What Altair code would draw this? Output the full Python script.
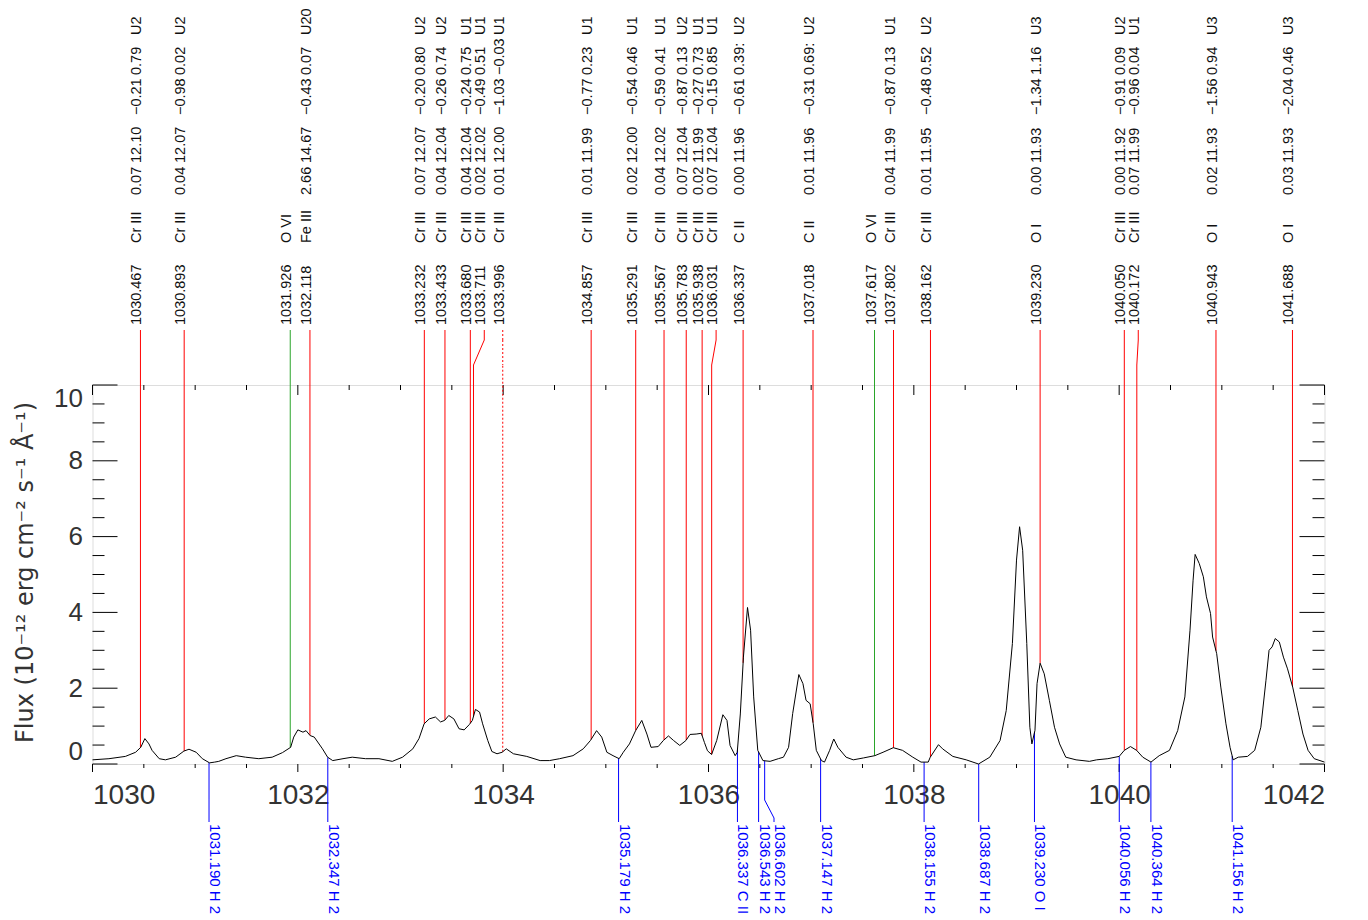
import altair as alt
import numpy as np
import pandas as pd

# ---------------- spectrum (wavelength in Angstrom, flux in 1e-12 erg/cm2/s/A) -------------
wl = [
    1030.00, 1030.16, 1030.32, 1030.42, 1030.47, 1030.51, 1030.55, 1030.58, 1030.65, 1030.71,
    1030.81, 1030.89, 1030.94, 1031.01, 1031.07, 1031.14, 1031.19, 1031.23, 1031.30, 1031.40,
    1031.49, 1031.62, 1031.75, 1031.85, 1031.93, 1031.96, 1032.00, 1032.05, 1032.08, 1032.12,
    1032.16, 1032.24, 1032.29, 1032.34, 1032.44, 1032.53, 1032.66, 1032.79, 1032.92, 1033.02,
    1033.12, 1033.18, 1033.23, 1033.28, 1033.34, 1033.39, 1033.43, 1033.47, 1033.52, 1033.57,
    1033.62, 1033.67, 1033.70, 1033.73, 1033.77, 1033.80, 1033.85, 1033.89, 1033.94, 1033.99,
    1034.03, 1034.10, 1034.23, 1034.36, 1034.45, 1034.55, 1034.68, 1034.78, 1034.85, 1034.91,
    1034.96, 1035.01, 1035.07, 1035.13, 1035.17, 1035.23, 1035.29, 1035.35, 1035.40, 1035.44,
    1035.51, 1035.56, 1035.61, 1035.66, 1035.72, 1035.78, 1035.82, 1035.88, 1035.93, 1035.96,
    1035.99, 1036.03, 1036.08, 1036.14, 1036.18, 1036.21, 1036.26, 1036.28, 1036.31, 1036.34,
    1036.38, 1036.41, 1036.44, 1036.48, 1036.53, 1036.60, 1036.68, 1036.73, 1036.78, 1036.82,
    1036.88, 1036.92, 1036.95, 1036.99, 1037.02, 1037.05, 1037.10, 1037.13, 1037.18, 1037.22,
    1037.26, 1037.34, 1037.41, 1037.51, 1037.62, 1037.70, 1037.80, 1037.89, 1037.99, 1038.07,
    1038.14, 1038.16, 1038.24, 1038.28, 1038.38, 1038.51, 1038.63, 1038.74, 1038.84, 1038.90,
    1038.96, 1039.00, 1039.03, 1039.06, 1039.10, 1039.13, 1039.15, 1039.18, 1039.20, 1039.23,
    1039.27, 1039.32, 1039.37, 1039.42, 1039.48, 1039.58, 1039.71, 1039.78, 1039.89, 1040.00,
    1040.05, 1040.11, 1040.17, 1040.23, 1040.31, 1040.39, 1040.49, 1040.57, 1040.64, 1040.69,
    1040.72, 1040.74, 1040.78, 1040.82, 1040.85, 1040.89, 1040.91, 1040.95, 1040.99, 1041.04,
    1041.08, 1041.11, 1041.16, 1041.25, 1041.32, 1041.38, 1041.43, 1041.46, 1041.49, 1041.52,
    1041.56, 1041.60, 1041.64, 1041.69, 1041.74, 1041.79, 1041.84, 1041.90, 1042.00,
]
flux = [
    0.11, 0.14, 0.20, 0.31, 0.44, 0.67, 0.53, 0.36, 0.14, 0.11,
    0.18, 0.34, 0.39, 0.31, 0.14, 0.03, 0.05, 0.07, 0.14, 0.22,
    0.18, 0.14, 0.18, 0.30, 0.44, 0.71, 0.90, 0.84, 0.88, 0.75,
    0.71, 0.40, 0.18, 0.09, 0.14, 0.18, 0.14, 0.14, 0.07, 0.18,
    0.40, 0.67, 1.06, 1.19, 1.24, 1.11, 1.15, 1.28, 1.19, 0.93,
    0.90, 1.04, 1.15, 1.44, 1.37, 1.06, 0.62, 0.33, 0.27, 0.31,
    0.40, 0.27, 0.20, 0.09, 0.09, 0.14, 0.22, 0.40, 0.62, 0.88,
    0.71, 0.31, 0.22, 0.14, 0.31, 0.53, 0.88, 1.15, 0.79, 0.44,
    0.46, 0.62, 0.74, 0.62, 0.49, 0.62, 0.78, 0.79, 0.81, 0.57,
    0.35, 0.25, 0.62, 1.30, 1.15, 0.49, 0.22, 0.31, 1.32, 2.82,
    4.13, 3.53, 1.77, 0.36, 0.09, 0.07, 0.14, 0.18, 0.44, 1.33,
    2.36, 2.12, 1.68, 1.59, 1.06, 0.36, 0.09, 0.05, 0.36, 0.66,
    0.44, 0.18, 0.11, 0.16, 0.22, 0.31, 0.43, 0.36, 0.18, 0.05,
    0.05, 0.18, 0.51, 0.40, 0.20, 0.11, 0.00, 0.18, 0.62, 1.41,
    3.18, 5.38, 6.26, 5.64, 3.18, 0.97, 0.53, 0.89, 2.12, 2.66,
    2.38, 1.68, 0.97, 0.53, 0.18, 0.11, 0.07, 0.11, 0.14, 0.20,
    0.36, 0.46, 0.36, 0.18, 0.05, 0.22, 0.36, 0.88, 1.77, 3.53,
    4.85, 5.53, 5.29, 4.94, 4.41, 3.97, 3.35, 2.91, 2.03, 1.06,
    0.44, 0.11, 0.18, 0.20, 0.36, 0.97, 2.21, 3.00, 3.09, 3.31,
    3.22, 2.82, 2.51, 2.03, 1.41, 0.79, 0.36, 0.14, 0.05,
]

# ---------------- line identifications above the spectrum ----------------
top_wl = [1030.467, 1030.893, 1031.926, 1032.118, 1033.232, 1033.433, 1033.680, 1033.711,
          1033.996, 1034.857, 1035.291, 1035.567, 1035.783, 1035.938, 1036.031, 1036.337,
          1037.018, 1037.617, 1037.802, 1038.162, 1039.230, 1040.050, 1040.172, 1040.943,
          1041.688]
top_wl_txt = ["1030.467", "1030.893", "1031.926", "1032.118", "1033.232", "1033.433", "1033.680",
              "1033.711", "1033.996", "1034.857", "1035.291", "1035.567", "1035.783", "1035.938",
              "1036.031", "1036.337", "1037.018", "1037.617", "1037.802", "1038.162", "1039.230",
              "1040.050", "1040.172", "1040.943", "1041.688"]
top_ion = ["Cr III", "Cr III", "O VI", "Fe III", "Cr III", "Cr III", "Cr III", "Cr III", "Cr III",
           "Cr III", "Cr III", "Cr III", "Cr III", "Cr III", "Cr III", "C II", "C II", "O VI",
           "Cr III", "Cr III", "O I", "Cr III", "Cr III", "O I", "O I"]
top_c1 = ["0.07", "0.04", "", "2.66", "0.07", "0.04", "0.04", "0.02", "0.01", "0.01", "0.02",
          "0.04", "0.07", "0.02", "0.07", "0.00", "0.01", "", "0.04", "0.01", "0.00", "0.00",
          "0.07", "0.02", "0.03"]
top_c2 = ["12.10", "12.07", "", "14.67", "12.07", "12.04", "12.04", "12.02", "12.00", "11.99",
          "12.00", "12.02", "12.04", "11.99", "12.04", "11.96", "11.96", "", "11.99", "11.95",
          "11.93", "11.92", "11.99", "11.93", "11.93"]
top_c3 = ["−0.21", "−0.98", "", "−0.43", "−0.20", "−0.26", "−0.24", "−0.49", "−1.03", "−0.77",
          "−0.54", "−0.59", "−0.87", "−0.27", "−0.15", "−0.61", "−0.31", "", "−0.87", "−0.48",
          "−1.34", "−0.91", "−0.96", "−1.56", "−2.04"]
top_c4 = ["0.79", "0.02", "", "0.07", "0.80", "0.74", "0.75", "0.51", "−0.03", "0.23", "0.46",
          "0.41", "0.13", "0.73", "0.85", "0.39:", "0.69:", "", "0.13", "0.52", "1.16", "0.09",
          "0.04", "0.94", "0.46"]
top_u = ["U2", "U2", "", "U20", "U2", "U2", "U1", "U1", "U1", "U1", "U1", "U1", "U2", "U1", "U1",
         "U2", "U2", "", "U1", "U2", "U3", "U2", "U1", "U3", "U3"]
top_style = ["red", "red", "green", "red", "red", "red", "red", "red", "dotted", "red", "red",
             "red", "red", "red", "red", "red", "red", "green", "red", "red", "red", "red", "red",
             "red", "red"]

# ---------------- identifications below the spectrum ----------------
bot_wl = [1031.190, 1032.347, 1035.179, 1036.337, 1036.543, 1036.602, 1037.147, 1038.155,
          1038.687, 1039.230, 1040.056, 1040.364, 1041.156]
bot_txt = ["1031.190 H 2", "1032.347 H 2", "1035.179 H 2", "1036.337 C II", "1036.543 H 2",
           "1036.602 H 2", "1037.147 H 2", "1038.155 H 2", "1038.687 H 2", "1039.230 O I",
           "1040.056 H 2", "1040.364 H 2", "1041.156 H 2"]
BOT_SHIFT = -0.055   # Angstrom offset at which the lower markers are drawn

# ---------------- axis ticks ----------------
x_major = [1030, 1032, 1034, 1036, 1038, 1040, 1042]
x_minor = [1030.5, 1031, 1031.5, 1032.5, 1033, 1033.5, 1034.5, 1035, 1035.5, 1036.5, 1037,
           1037.5, 1038.5, 1039, 1039.5, 1040.5, 1041, 1041.5]
y_major = [0, 2, 4, 6, 8, 10]
y_minor = [0.5, 1, 1.5, 2.5, 3, 3.5, 4.5, 5, 5.5, 6.5, 7, 7.5, 8.5, 9, 9.5]

# ---------------- layout constants (pixels, relative to the plot area) ----------------
W, H = 1232, 379
TOP_Y0, TOP_Y1, TOP_Y2 = -55, -45, -20        # upper marker: top, kink start, kink end
BOT_Y1, BOT_Y2, BOT_Y3 = 415, 433, 437        # lower marker: kink start, kink end, bottom
LABEL_FONT = "Liberation Sans"
LABEL_SIZE = 14.5
TXT = "#111111"

def spread(pos, gap):
    out = []
    for p in pos:
        if out and p < out[-1] + gap:
            out.append(out[-1] + gap)
        else:
            out.append(p)
    return out

spec = pd.DataFrame({"wl": wl, "flux": flux})

COLORS = {"red": "#ff0000", "green": "#2aa52a", "dotted": "#ff0000"}
top = pd.DataFrame({
    "wl": top_wl, "lab": spread(top_wl, 0.136),
    "f": np.interp(top_wl, wl, flux),
    "t0": top_wl_txt, "t1": top_ion, "t2": top_c1, "t3": top_c2, "t4": top_c3,
    "t5": top_c4, "t6": top_u, "style": top_style,
})
top["col"] = top["style"].map(COLORS)

bshift = [w + BOT_SHIFT for w in bot_wl]
bot = pd.DataFrame({"wl": bshift, "lab": spread(bshift, 0.15),
                    "f": np.interp(bshift, wl, flux), "txt": bot_txt})

xs = alt.Scale(domain=[1030, 1042], nice=False, zero=False)
ys = alt.Scale(domain=[0, 10], nice=False, zero=False)
col = alt.Color("col:N", scale=None, legend=None)

spectrum = alt.Chart(spec).mark_line(color="black", strokeWidth=1).encode(
    x=alt.X("wl:Q", scale=xs, axis=alt.Axis(
        values=x_major, format="d", ticks=False, domain=False, grid=False, labelFlush=True,
        labelFontSize=28, labelFont=LABEL_FONT, labelColor="#333333", labelPadding=17,
        title=None)),
    y=alt.Y("flux:Q", scale=ys, axis=alt.Axis(
        values=y_major, ticks=False, domain=False, grid=False, labelFlush=True,
        labelFlushOffset=0, labelFontSize=26, labelFont=LABEL_FONT, labelColor="#333333",
        labelPadding=10, title=None)),
)

top_solid = top[top["style"] != "dotted"]
top_dot = top[top["style"] == "dotted"]

def top_segments(df, dash=None):
    kw = {"strokeWidth": 1}
    if dash:
        kw["strokeDash"] = dash
    base = alt.Chart(df)
    a = base.mark_rule(**kw).encode(x=alt.X("lab:Q", scale=xs), y=alt.value(TOP_Y0),
                                    y2=alt.value(TOP_Y1), color=col)
    b = base.mark_rule(**kw).encode(x=alt.X("lab:Q", scale=xs), x2="wl:Q",
                                    y=alt.value(TOP_Y1), y2=alt.value(TOP_Y2), color=col)
    c = base.mark_rule(**kw).encode(x=alt.X("wl:Q", scale=xs), y=alt.Y("f:Q", scale=ys),
                                    y2=alt.value(TOP_Y2), color=col)
    return [a, b, c]

top_layers = top_segments(top_solid) + top_segments(top_dot, [2, 2])

# label columns: start position (pixels above plot top) for each field
col_pos = [("t0", -60), ("t1", -142), ("t2", -190), ("t3", -222), ("t4", -270),
           ("t5", -310), ("t6", -350)]
top_text = [
    alt.Chart(top).mark_text(angle=270, align="left", baseline="alphabetic", dy=1,
                             font=LABEL_FONT, fontSize=LABEL_SIZE, color=TXT).encode(
        x=alt.X("lab:Q", scale=xs), y=alt.value(p), text=f"{c}:N")
    for c, p in col_pos
]

bb = alt.Chart(bot)
blue = "#0000ff"
bot_layers = [
    bb.mark_rule(color=blue, strokeWidth=1).encode(
        x=alt.X("wl:Q", scale=xs), y=alt.Y("f:Q", scale=ys), y2=alt.value(BOT_Y1)),
    bb.mark_rule(color=blue, strokeWidth=1).encode(
        x=alt.X("wl:Q", scale=xs), x2="lab:Q", y=alt.value(BOT_Y1), y2=alt.value(BOT_Y2)),
    bb.mark_rule(color=blue, strokeWidth=1).encode(
        x=alt.X("lab:Q", scale=xs), y=alt.value(BOT_Y2), y2=alt.value(BOT_Y3)),
    bb.mark_text(angle=90, align="left", baseline="alphabetic", dy=-1, font=LABEL_FONT,
                 fontSize=15, color=blue).encode(
        x=alt.X("lab:Q", scale=xs), y=alt.value(BOT_Y3 + 2), text="txt:N"),
]

# tick marks drawn like the original (inward on y, outward below / inward above on x)
ymaj = pd.DataFrame({"v": y_major})
ymin = pd.DataFrame({"v": y_minor})
xmaj = pd.DataFrame({"v": x_major})
xmin = pd.DataFrame({"v": x_minor})
tick_layers = [
    alt.Chart(ymaj).mark_rule(color="black").encode(
        y=alt.Y("v:Q", scale=ys), x=alt.value(0), x2=alt.value(25)),
    alt.Chart(ymin).mark_rule(color="black").encode(
        y=alt.Y("v:Q", scale=ys), x=alt.value(0), x2=alt.value(12)),
    alt.Chart(ymaj).mark_rule(color="black").encode(
        y=alt.Y("v:Q", scale=ys), x=alt.value(W), x2=alt.value(W - 25)),
    alt.Chart(ymin).mark_rule(color="black").encode(
        y=alt.Y("v:Q", scale=ys), x=alt.value(W), x2=alt.value(W - 12)),
    alt.Chart(xmaj).mark_rule(color="black").encode(
        x=alt.X("v:Q", scale=xs), y=alt.value(H), y2=alt.value(H + 8)),
    alt.Chart(xmin).mark_rule(color="black").encode(
        x=alt.X("v:Q", scale=xs), y=alt.value(H), y2=alt.value(H + 4)),
    alt.Chart(xmaj).mark_rule(color="black").encode(
        x=alt.X("v:Q", scale=xs), y=alt.value(0), y2=alt.value(10)),
    alt.Chart(xmin).mark_rule(color="black").encode(
        x=alt.X("v:Q", scale=xs), y=alt.value(0), y2=alt.value(5)),
]

ytitle = alt.Chart(pd.DataFrame({"t": ["Flux   (10⁻¹²  erg  cm⁻²  s⁻¹  Å⁻¹)"]})).mark_text(
    angle=270, align="center", baseline="middle", font="DejaVu Sans", fontSize=24,
    color="#333333").encode(x=alt.value(-67), y=alt.value(H / 2 - 2), text="t:N")

chart = alt.layer(
    *tick_layers, *top_layers, *top_text, *bot_layers, spectrum, ytitle
).properties(
    width=W, height=H,
    padding={"left": 84.5, "top": 377, "right": 30, "bottom": 152},
    autosize=alt.AutoSizeParams(type="none"),
).configure_view(stroke="black", strokeWidth=1).configure(background="white")

chart.save("out.html", embed_options={"renderer": "svg", "actions": False})
